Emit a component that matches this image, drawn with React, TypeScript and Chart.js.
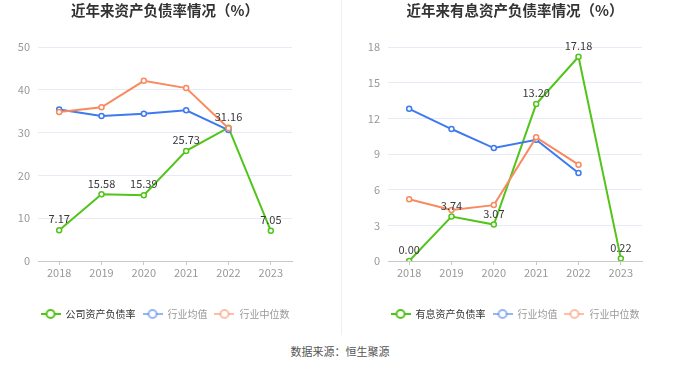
import React, { useEffect, useRef } from 'react';
import { Chart, registerables } from 'chart.js';

Chart.register(...registerables);

const years = ['2018', '2019', '2020', '2021', '2022', '2023'];

const leftTitle = '近年来资产负债率情况（%）';
const leftLegend = ['公司资产负债率', '行业均值', '行业中位数'];
const leftCompany = [7.17, 15.58, 15.39, 25.73, 31.16, 7.05];
const leftIndustryAvg = [35.4, 33.9, 34.4, 35.2, 30.6, null];
const leftIndustryMedian = [34.8, 35.9, 42.1, 40.4, 31.0, null];
const leftYMax = 50;
const leftYStep = 10;

const rightTitle = '近年来有息资产负债率情况（%）';
const rightLegend = ['有息资产负债率', '行业均值', '行业中位数'];
const rightCompany = [0.0, 3.74, 3.07, 13.2, 17.18, 0.22];
const rightIndustryAvg = [12.8, 11.1, 9.5, 10.2, 7.4, null];
const rightIndustryMedian = [5.2, 4.3, 4.7, 10.4, 8.1, null];
const rightYMax = 18;
const rightYStep = 3;

const sourceText = '数据来源：恒生聚源';

const GREEN = '#52c41a';
const BLUE = '#3d7af0';
const ORANGE = '#f98a5f';
const FONT = "'Noto Sans CJK SC', 'Noto Sans', sans-serif";

function makeIcon(color: string, alpha: number) {
  const c = document.createElement('canvas');
  c.width = 20;
  c.height = 12;
  const ctx = c.getContext('2d')!;
  ctx.globalAlpha = alpha;
  ctx.strokeStyle = color;
  ctx.lineWidth = 2;
  ctx.beginPath();
  ctx.moveTo(0, 6);
  ctx.lineTo(20, 6);
  ctx.stroke();
  ctx.globalAlpha = 1;
  ctx.beginPath();
  ctx.arc(10, 6, 4, 0, Math.PI * 2);
  ctx.fillStyle = '#fff';
  ctx.fill();
  ctx.globalAlpha = alpha;
  ctx.lineWidth = 2;
  ctx.stroke();
  return c;
}

const labelPlugin = {
  id: 'valueLabels',
  afterLayout(chart: any) {
    const lg = chart.legend;
    if (lg) {
      const ca = chart.chartArea;
      const shift = (ca.left + ca.right) / 2 - (lg.left + lg.right) / 2;
      lg.left += shift;
      lg.right += shift;
    }
  },
  afterDatasetsDraw(chart: any) {
    const ctx = chart.ctx;
    const ds = chart.data.datasets[0];
    const meta = chart.getDatasetMeta(0);
    ctx.save();
    ctx.font = `11px ${FONT}`;
    ctx.fillStyle = '#3a3a3a';
    ctx.textAlign = 'center';
    ctx.textBaseline = 'middle';
    meta.data.forEach((pt: any, i: number) => {
      const v = ds.data[i];
      if (v == null) return;
      ctx.fillText(Number(v).toFixed(2), pt.x, pt.y - 11);
    });
    ctx.restore();
  },
};

function buildConfig(
  title: string,
  legend: string[],
  company: (number | null)[],
  avg: (number | null)[],
  median: (number | null)[],
  yMax: number,
  yStep: number,
  yWidth: number,
  padRight: number
): any {
  const icons = [makeIcon(GREEN, 1), makeIcon(BLUE, 0.55), makeIcon(ORANGE, 0.55)];
  const textColors = ['#333', '#999', '#999'];
  const mk = (label: string, data: any[], color: string, order: number) => ({
    label,
    data,
    borderColor: color,
    backgroundColor: color,
    borderWidth: 2,
    pointRadius: 2.5,
    pointBorderWidth: 1.5,
    pointBackgroundColor: '#fff',
    pointBorderColor: color,
    tension: 0,
    order,
  });
  return {
    type: 'line',
    data: {
      labels: years,
      datasets: [
        mk(legend[0], company, GREEN, 3),
        mk(legend[1], avg, BLUE, 2),
        mk(legend[2], median, ORANGE, 1),
      ],
    },
    options: {
      responsive: false,
      devicePixelRatio: 1,
      animation: false,
      layout: { padding: { left: 0, right: padRight, top: 0, bottom: 1 } },
      plugins: {
        tooltip: { enabled: false },
        title: {
          display: true,
          text: title,
          fullSize: false,
          color: '#333',
          font: { size: 14.5, weight: 'bold', family: FONT, lineHeight: 1.2 },
          padding: { top: 2, bottom: 27.6 },
        },
        legend: {
          display: true,
          position: 'bottom',
          fullSize: true,
          labels: {
            usePointStyle: true,
            pointStyleWidth: 20,
            boxHeight: 10,
            padding: 7,
            font: { size: 10, family: FONT },
            generateLabels: () =>
              legend.map((t, i) => ({
                text: t,
                pointStyle: icons[i],
                fontColor: textColors[i],
                datasetIndex: i,
                hidden: false,
                lineWidth: 0,
                strokeStyle: 'transparent',
                fillStyle: 'transparent',
              })),
          },
        },
      },
      scales: {
        x: {
          offset: true,
          afterFit: (s: any) => {
            s.height = 41;
          },
          grid: {
            display: true,
            drawOnChartArea: false,
            drawTicks: true,
            tickLength: 4,
            color: '#c8c8c8',
          },
          border: { display: true, color: '#c8c8c8' },
          ticks: { color: '#999', padding: 1, font: { size: 11, family: FONT } },
        },
        y: {
          min: 0,
          max: yMax,
          afterFit: (s: any) => {
            s.width = yWidth;
          },
          ticks: { stepSize: yStep, color: '#999', padding: 8, font: { size: 11, family: FONT } },
          grid: { color: '#e6ebf5', drawTicks: false },
          border: { display: false },
        },
      },
    },
    plugins: [labelPlugin],
  };
}

export default function App() {
  const leftRef = useRef<HTMLCanvasElement>(null);
  const rightRef = useRef<HTMLCanvasElement>(null);

  useEffect(() => {
    document.body.style.margin = '0';
    const c1 = new Chart(
      leftRef.current!,
      buildConfig(leftTitle, leftLegend, leftCompany, leftIndustryAvg, leftIndustryMedian, leftYMax, leftYStep, 38, 48)
    );
    const c2 = new Chart(
      rightRef.current!,
      buildConfig(rightTitle, rightLegend, rightCompany, rightIndustryAvg, rightIndustryMedian, rightYMax, rightYStep, 48, 38)
    );
    return () => {
      c1.destroy();
      c2.destroy();
    };
  }, []);

  return (
    <div style={{ position: 'fixed', left: 0, top: 0, width: 680, height: 367, background: '#fff', overflow: 'hidden' }}>
      <canvas ref={leftRef} width={340} height={330} style={{ position: 'absolute', left: 0, top: 0, width: 340, height: 330 }} />
      <canvas ref={rightRef} width={340} height={330} style={{ position: 'absolute', left: 340, top: 0, width: 340, height: 330 }} />
      <div style={{ position: 'absolute', left: 341, top: 0, width: 1, height: 335, background: '#f0f0f0' }} />
      <div
        style={{
          position: 'absolute',
          left: 0,
          top: 343,
          width: 680,
          textAlign: 'center',
          fontFamily: FONT,
          fontSize: 11,
          lineHeight: '16px',
          color: '#555',
        }}
      >
        {sourceText}
      </div>
    </div>
  );
}
